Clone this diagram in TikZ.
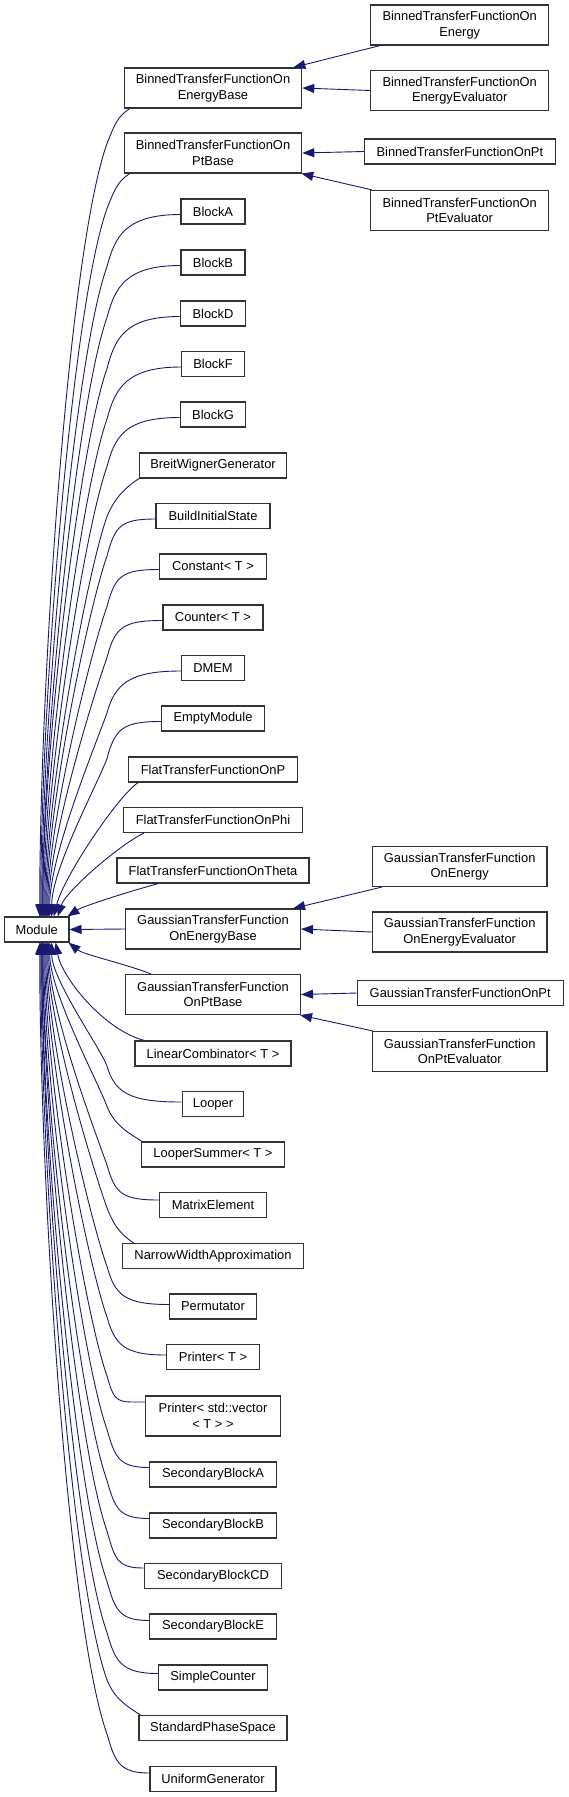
\documentclass[tikz,border=0pt]{standalone}
\usepackage{fontspec}
\setmainfont{Liberation Sans}
\usetikzlibrary{arrows.meta,calc}
\definecolor{edgec}{HTML}{191970}
\tikzset{
 cls/.style={draw=black!80, line width=1.1pt, fill=white, inner sep=0pt, minimum height=25pt, font=\fontsize{12.9}{15.5}\selectfont, align=center},
 two/.style={minimum height=40pt},
 edge/.style={draw=edgec, line width=0.9pt, -{Triangle[length=12pt,width=9pt]}},
}
\begin{document}
\begin{tikzpicture}[x=1pt,y=-1pt]
\useasboundingbox (0,0) rectangle (568,1797);
\coordinate (bx) at (107,0);
% base
\node[cls, minimum width=64.5pt] (mod) at (36.7,929.5) {Module};
% left column
\node[cls, two, minimum width=177.5pt] (beb) at (213,88) {BinnedTransferFunctionOn\\EnergyBase};
\node[cls, two, minimum width=177.5pt] (bpb) at (213,153) {BinnedTransferFunctionOn\\PtBase};
\node[cls, minimum width=64pt] (ba) at (213,211.5) {BlockA};
\node[cls, minimum width=64pt] (bb) at (213,262.5) {BlockB};
\node[cls, minimum width=65.5pt] (bd) at (213,313.5) {BlockD};
\node[cls, minimum width=63pt] (bf) at (213,364) {BlockF};
\node[cls, minimum width=65.5pt] (bg) at (213,414.5) {BlockG};
\node[cls, minimum width=147pt] (bwg) at (213,465.5) {BreitWignerGenerator};
\node[cls, minimum width=114pt] (bis) at (213,516) {BuildInitialState};
\node[cls, minimum width=107pt] (cst) at (213,566.5) {Constant< T >};
\node[cls, minimum width=100pt] (cnt) at (213,617.5) {Counter< T >};
\node[cls, minimum width=63pt] (dmem) at (213,668) {DMEM};
\node[cls, minimum width=103pt] (emp) at (213,718.5) {EmptyModule};
\node[cls, minimum width=168.5pt] (fp) at (213,769.5) {FlatTransferFunctionOnP};
\node[cls, minimum width=179pt] (fphi) at (213,820) {FlatTransferFunctionOnPhi};
\node[cls, minimum width=192pt] (fth) at (213,870.5) {FlatTransferFunctionOnTheta};
\node[cls, two, minimum width=175pt] (geb) at (213,929) {GaussianTransferFunction\\OnEnergyBase};
\node[cls, two, minimum width=175pt] (gpb) at (213,994.5) {GaussianTransferFunction\\OnPtBase};
\node[cls, minimum width=156pt] (lin) at (213,1053.5) {LinearCombinator< T >};
\node[cls, minimum width=61.5pt] (lp) at (213,1104) {Looper};
\node[cls, minimum width=143pt] (lsum) at (213,1154.5) {LooperSummer< T >};
\node[cls, minimum width=106.5pt] (mat) at (213,1205) {MatrixElement};
\node[cls, minimum width=181.5pt] (nwa) at (213,1256) {NarrowWidthApproximation};
\node[cls, minimum width=87pt] (perm) at (213,1306.5) {Permutator};
\node[cls, minimum width=92.5pt] (prn) at (213,1357) {Printer< T >};
\node[cls, two, minimum width=135pt] (pvec) at (213,1416) {Printer< std::vector\\< T > >};
\node[cls, minimum width=127pt] (seca) at (213,1474.5) {SecondaryBlockA};
\node[cls, minimum width=127pt] (secb) at (213,1525.5) {SecondaryBlockB};
\node[cls, minimum width=137.5pt] (seccd) at (213,1576) {SecondaryBlockCD};
\node[cls, minimum width=127pt] (sece) at (213,1626.5) {SecondaryBlockE};
\node[cls, minimum width=108.5pt] (simp) at (213,1677.5) {SimpleCounter};
\node[cls, minimum width=148pt] (sps) at (213,1728) {StandardPhaseSpace};
\node[cls, minimum width=126pt] (unif) at (213,1779) {UniformGenerator};
% right column
\node[cls, two, minimum width=178pt] (be) at (459.7,25) {BinnedTransferFunctionOn\\Energy};
\node[cls, two, minimum width=178pt] (bee) at (459.7,90.5) {BinnedTransferFunctionOn\\EnergyEvaluator};
\node[cls, minimum width=191pt] (bp) at (459.9,151.5) {BinnedTransferFunctionOnPt};
\node[cls, two, minimum width=178pt] (bpe) at (459.7,210.5) {BinnedTransferFunctionOn\\PtEvaluator};
\node[cls, two, minimum width=174.5pt] (ge) at (459.7,866.5) {GaussianTransferFunction\\OnEnergy};
\node[cls, two, minimum width=174.5pt] (gee) at (459.7,932) {GaussianTransferFunction\\OnEnergyEvaluator};
\node[cls, minimum width=206pt] (gp) at (460.2,993) {GaussianTransferFunctionOnPt};
\node[cls, two, minimum width=174.5pt] (gpe) at (459.7,1051.5) {GaussianTransferFunction\\OnPtEvaluator};
% right-side edges
\draw[edge] ([xshift=10]be.south west) -- ([xshift=-9]beb.north east);
\draw[edge] (bee.west) -- (beb.east);
\draw[edge] (bp.west) -- (bpb.east);
\draw[edge] ([xshift=2]bpe.north west) -- ([xshift=-1]bpb.south east);
\draw[edge] ([xshift=10]ge.south west) -- ([xshift=-8]geb.north east);
\draw[edge] (gee.west) -- (geb.east);
\draw[edge] (gp.west) -- (gpb.east);
\draw[edge] ([xshift=1]gpe.north west) -- ([xshift=-1]gpb.south east);
% edges to Module from above (west start)
\foreach \n/\t/\a/\d/\cy [evaluate=\cy as \D using {917-\cy-\d}] in {ba/5/-55/55/212, bb/6/-55/55/262.5, bd/6/-55/55/313.5, bf/7/-55/55/364, bg/8/-55/52/414.5, bis/10/-35/40/516, cst/11/-38/40/566.5, cnt/12/-40/40/617.5, dmem/13/-50/45/668, emp/15/-38/40/718.5}
  \draw[edge] ([yshift=-3]\n.west) .. controls +(\a,0) and +(8,-30) .. ($(\n.west -| bx)+(0,\d)$) .. controls +({-0.05*\D},{0.14*\D}) and +(0,{-0.3*\D}) .. ([xshift=\t]mod.north);
% edges to Module from above (corner start)
\foreach \n/\s/\d/\t/\sy [evaluate=\sy as \D using {917-\sy-\d}] in {beb/6/35/3/108, bpb/6/35/4/173, bwg/0/38/9/478}
  \draw[edge] ([xshift=\s]\n.south west) .. controls +(-12,8) and +(8,-20) .. ($(\n.south west -| bx)+(0,\d)$) .. controls +({-0.05*\D},{0.14*\D}) and +(0,{-0.3*\D}) .. ([xshift=\t]mod.north);
\draw[edge] ([xshift=10]fp.south west) .. controls +(-20,13) and +(10,-40) .. ([xshift=17]mod.north);
\draw[edge] ([xshift=21]fphi.south west) .. controls +(-25,12) and +(8,-25) .. ([xshift=21]mod.north);
\draw[edge] ([xshift=42]fth.south west) .. controls +(-30,8) and +(15,-10) .. ([xshift=-2]mod.north east);
\draw[edge] (geb.west) -- (mod.east);
\draw[edge] ([xshift=26]gpb.north west) .. controls +(-25,-10) and +(15,12) .. ([xshift=-1]mod.south east);
\draw[edge] ([xshift=10]lin.north west) .. controls +(-40,-10) and +(6,35) .. ([xshift=19]mod.south);
% edges to Module from below (west start)
\foreach \n/\y/\t/\a/\d/\cy [evaluate=\cy as \D using {\cy-\d-942}] in {lp/2/15/-50/38/1104, mat/5/12/-38/40/1205, perm/2/10/-45/40/1306.5, prn/2/9/-42/40/1357, pvec/14/8/-28/40/1416, seca/7/7/-30/45/1474.5, secb/7/6/-30/45/1525.5, seccd/8/6/-27/45/1576, sece/6/5/-30/45/1626.5, simp/4/5/-38/45/1677.5, unif/6/3/-30/45/1779}
  \draw[edge] ([yshift=\y]\n.west) .. controls +(\a,0) and +(8,28) .. ($(\n.west -| bx)+(0,-\d)$) .. controls +({-0.05*\D},{-0.14*\D}) and +(0,{0.3*\D}) .. ([xshift=\t]mod.south);
% edges to Module from below (corner start)
\foreach \n/\s/\t/\d/\sy [evaluate=\sy as \D using {\sy-\d-942}] in {lsum/1/13/35/1142, nwa/12/11/35/1243, sps/2/4/35/1715}
  \draw[edge] ([xshift=\s]\n.north west) .. controls +(-12,-8) and +(8,20) .. ($(\n.north west -| bx)+(0,-\d)$) .. controls +({-0.05*\D},{-0.14*\D}) and +(0,{0.3*\D}) .. ([xshift=\t]mod.south);
\end{tikzpicture}
\end{document}
